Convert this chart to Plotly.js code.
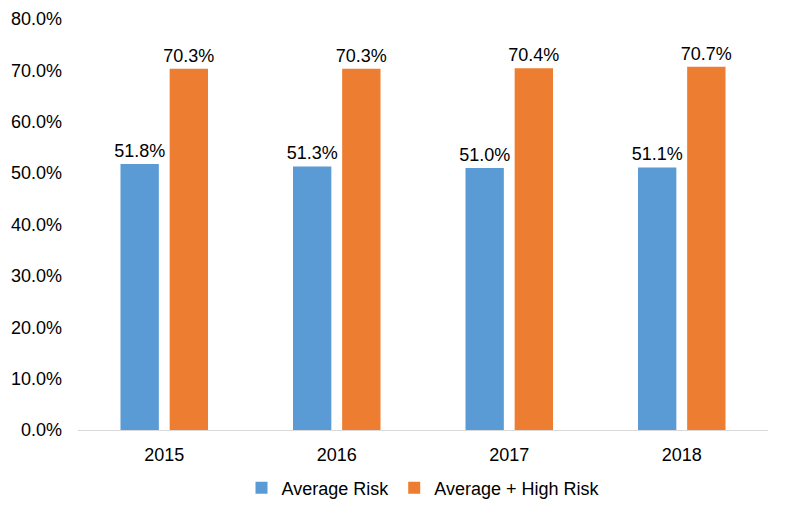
<!DOCTYPE html>
<html><head><meta charset="utf-8">
<script src="https://cdn.plot.ly/plotly-3.0.1.min.js"></script>
<style>body{margin:0;background:#fff}#c{width:787px;height:513px}</style>
</head><body><div id="c"></div>
<script>
const years = ['2015','2016','2017','2018'];
const averageRisk = [0.518, 0.513, 0.510, 0.511];
const averageHighRisk = [0.703, 0.703, 0.704, 0.707];
const seriesNames = ['Average Risk', 'Average + High Risk'];
const fmt = v => (v*100).toFixed(1) + '%';
const font = {family: 'Liberation Sans, Arial, sans-serif', size: 18, color: '#000'};
const traces = [
  {type:'bar', x: years, y: averageRisk, name: seriesNames[0], marker:{color:'#5B9BD5'},
   text: averageRisk.map(fmt), textposition:'outside', constraintext:'none', textfont: font, cliponaxis:false, hoverinfo:'none'},
  {type:'bar', x: years, y: averageHighRisk, name: seriesNames[1], marker:{color:'#ED7D31'},
   text: averageHighRisk.map(fmt), textposition:'outside', constraintext:'none', textfont: font, cliponaxis:false, hoverinfo:'none'}
];
const layout = {
  width:787, height:513, margin:{l:78, r:19, t:19, b:83, autoexpand:false},
  font: font, paper_bgcolor:'#fff', plot_bgcolor:'#fff',
  barmode:'group', bargap:0.43, bargroupgap:0.22,
  xaxis:{showline:true, linecolor:'#d9d9d9', linewidth:1, ticks:'', tickfont:font, showgrid:false, ticklabelstandoff:8},
  yaxis:{range:[0,0.8], dtick:0.1, tickformat:'.1%', showgrid:false, zeroline:false, showline:false, ticks:'', tickfont:font, ticklabelstandoff:15},
  showlegend:true,
  legend:{orientation:'h', x:0.5, xanchor:'center', y:-0.141, yanchor:'middle', font:font, itemwidth:30, traceorder:'normal'}
};
Plotly.newPlot('c', traces, layout, {staticPlot:true});
</script></body></html>
